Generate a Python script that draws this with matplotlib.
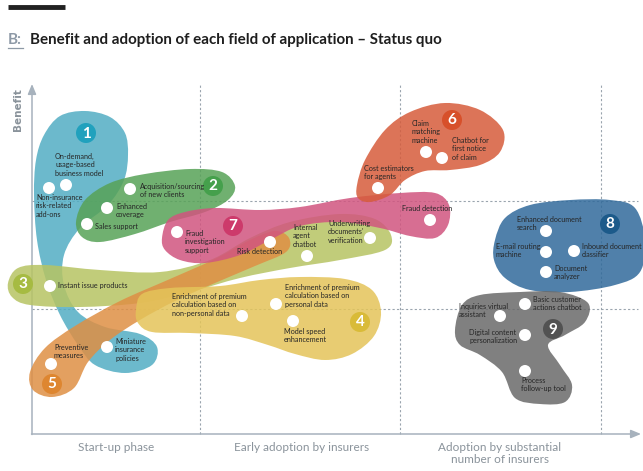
import numpy as np
import matplotlib

matplotlib.use("Agg")
import matplotlib.pyplot as plt
from matplotlib.path import Path
from matplotlib.patches import PathPatch, Circle

plt.rcParams["font.family"] = ["Lato", "DejaVu Sans"]

# --- data (chart works in pixel-like units: x = adoption, y = benefit, y grows downwards) ---
field_ids = [1, 2, 3, 4, 5, 6, 7, 8, 9]
field_colors = ["#52adc3", "#57a257", "#b7c463", "#e4c459", "#df8f44",
                "#d65c3b", "#d1557f", "#316a9b", "#6a6a6a"]
badge_colors = ["#21a1bd", "#45a04c", "#a6bb42", "#d9bb38", "#de8630",
                "#d7502a", "#cd3a6b", "#1c5a8a", "#525252"]
badge_x = [86, 213, 23, 360, 52, 452, 233, 610, 553]
badge_y = [133, 186, 284, 322, 384, 120, 226, 224, 329]

# outlines of the field blobs (control points of a closed smooth curve)
blob_1 = [(60, 116), (85, 111), (110, 117), (125, 133), (128, 155), (124, 180), (108, 205),
          (80, 228), (64, 255), (64, 285), (78, 312), (105, 327), (140, 334), (157, 347),
          (152, 365), (125, 373), (95, 365), (78, 345), (60, 315), (46, 280), (37, 240),
          (34, 195), (36, 160), (44, 135)]
blob_2 = [(76, 222), (85, 200), (110, 183), (145, 174), (190, 169), (222, 172), (235, 186),
          (228, 200), (205, 212), (170, 222), (135, 234), (100, 242), (82, 237)]
blob_3 = [(8, 283), (18, 268), (45, 265), (100, 270), (160, 272), (210, 260), (250, 238),
          (290, 222), (340, 214), (375, 219), (391, 235), (385, 250), (340, 260), (290, 268),
          (240, 278), (190, 292), (140, 303), (80, 307), (30, 305), (12, 297)]
blob_4 = [(136, 310), (142, 294), (170, 288), (220, 286), (260, 280), (300, 277), (345, 279),
          (372, 290), (381, 312), (374, 336), (352, 354), (325, 360), (295, 354), (268, 345),
          (235, 336), (190, 333), (152, 332), (138, 323)]
blob_5 = [(30, 372), (45, 348), (75, 326), (120, 301), (170, 279), (215, 259), (250, 240),
          (275, 231), (289, 238), (286, 252), (255, 266), (215, 283), (175, 301), (140, 320),
          (110, 340), (88, 362), (74, 388), (52, 397), (33, 390)]
blob_6 = [(357, 185), (365, 160), (385, 130), (410, 112), (445, 103), (480, 110), (503, 130),
          (500, 152), (480, 165), (450, 170), (425, 171), (405, 180), (390, 195), (370, 202),
          (358, 198)]
blob_7 = [(162, 238), (168, 220), (185, 212), (215, 208), (260, 210), (300, 207), (350, 198),
          (400, 193), (435, 193), (449, 205), (448, 225), (435, 238), (410, 236), (380, 228),
          (340, 222), (300, 226), (270, 240), (240, 255), (205, 263), (180, 260), (165, 250)]
blob_8 = [(495, 240), (505, 218), (530, 205), (570, 200), (610, 200), (635, 208), (645, 240),
          (640, 272), (615, 285), (570, 292), (530, 290), (505, 278), (494, 260)]
blob_9 = [(455, 330), (462, 305), (480, 295), (520, 292), (560, 292), (588, 303), (585, 322),
          (565, 335), (548, 345), (560, 365), (572, 385), (565, 402), (540, 404), (515, 398),
          (502, 372), (480, 355), (460, 345)]
blobs = [blob_1, blob_2, blob_3, blob_4, blob_5, blob_6, blob_7, blob_8, blob_9]
draw_order = [0, 2, 4, 3, 1, 6, 5, 7, 8]

app_names = [
    "On-demand,\nusage-based\nbusiness model", "Non-insurance\nrisk-related\nadd-ons",
    "Miniature\ninsurance\npolicies", "Acquisition/sourcing\nof new clients",
    "Enhanced\ncoverage", "Sales support", "Instant issue products",
    "Enrichment of premium\ncalculation based on\nnon-personal data",
    "Enrichment of premium\ncalculation based on\npersonal data",
    "Model speed\nenhancement", "Preventive\nmeasures", "Risk detection",
    "Claim\nmatching\nmachine", "Chatbot for\nfirst notice\nof claim",
    "Cost estimators\nfor agents", "Fraud\ninvestigation\nsupport", "Fraud detection",
    "Internal\nagent\nchatbot", "Underwriting\ndocuments'\nverification",
    "Enhanced document\nsearch", "E-mail routing\nmachine", "Inbound document\nclassifier",
    "Document\nanalyzer", "Basic customer\nactions chatbot", "Inquiries virtual\nassistant",
    "Digital content\npersonalization", "Process\nfollow-up tool",
]
app_adoption = [66, 49, 107, 130, 107, 87, 50, 242, 276, 293, 51, 270, 426, 442, 378, 177,
                430, 307, 370, 546, 546, 574, 546, 525, 500, 525, 525]
app_benefit = [185, 188, 347, 189, 208, 224, 286, 316, 304, 321, 364, 242, 152, 158, 188, 232,
               220, 256, 238, 231, 252, 251, 272, 304, 316, 335, 371]
# label anchors: left edge and first-line centre
label_x = [55, 36, 115, 140, 116, 95, 58, 172, 285, 284, 54, 237, 412, 452, 364, 185, 402,
           293, 328, 517, 496, 582, 554, 533, 459, 469, 521]
label_y = [157, 198, 342, 187, 207, 227, 286, 297, 288, 332, 348, 252, 124, 141, 169, 234, 209,
           228, 224, 220, 247, 247, 269, 300, 307, 333, 381]

phase_names = ["Start-up phase", "Early adoption by insurers",
               "Adoption by substantial\nnumber of insurers"]
phase_centres = [116, 302, 500]
phase_bounds = [200, 400, 601]
benefit_levels = [201, 309]


def smooth_closed(pts):
    p = np.asarray(pts, float)
    n = len(p)
    verts = [p[0]]
    codes = [Path.MOVETO]
    for i in range(n):
        p0, p1, p2, p3 = p[i - 1], p[i], p[(i + 1) % n], p[(i + 2) % n]
        verts += [p1 + (p2 - p0) / 6, p2 - (p3 - p1) / 6, p2]
        codes += [Path.CURVE4] * 3
    verts.append(p[0])
    codes.append(Path.CLOSEPOLY)
    return Path(verts, codes)


fig = plt.figure(figsize=(6.43, 4.71), dpi=100)
ax = fig.add_axes([0, 0, 1, 1])
ax.set_xlim(0, 643)
ax.set_ylim(471, 0)
ax.axis("off")

axis_col = "#a7b2bd"
grid_col = "#9aa4ae"
label_col = "#8a939b"

# grid
for xb in phase_bounds:
    ax.plot([xb, xb], [434, 85], color=grid_col, lw=0.8, ls=(0, (2, 2)), zorder=0)
for yb in benefit_levels:
    ax.plot([32, 638], [yb, yb], color=grid_col, lw=0.8, ls=(0, (2, 2)), zorder=0)

# axes arrows
arrow = dict(arrowstyle="-|>,head_width=0.25,head_length=0.6", color=axis_col, lw=1.1,
             shrinkA=0, shrinkB=0)
ax.annotate("", xy=(32, 84), xytext=(32, 434.5), arrowprops=arrow, zorder=1)
ax.annotate("", xy=(641, 434), xytext=(31.5, 434), arrowprops=arrow, zorder=1)

# blobs
for i in draw_order:
    ax.add_patch(PathPatch(smooth_closed(blobs[i]), facecolor=field_colors[i], edgecolor="none",
                           alpha=0.85, zorder=2))

# badges
for i, fid in enumerate(field_ids):
    ax.add_patch(Circle((badge_x[i], badge_y[i]), 10, facecolor=badge_colors[i],
                        edgecolor="none", zorder=4))
    ax.text(badge_x[i], badge_y[i] + 0.5, str(fid), color="white", fontsize=11,
            fontweight="bold", ha="center", va="center", zorder=5)

# applications
for name, x, y, lx, ly in zip(app_names, app_adoption, app_benefit, label_x, label_y):
    ax.add_patch(Circle((x, y), 6, facecolor="white", edgecolor="none", zorder=4))
    ax.text(lx, ly - 4.2, name, fontsize=5.25, color="#262626", ha="left", va="top",
            linespacing=1.25, zorder=5)

# axis labels
for name, xc in zip(phase_names, phase_centres):
    ax.text(xc, 442, name, fontsize=8.5, color=label_col, ha="center", va="top",
            linespacing=1.1)
ax.text(18, 110, "Benefit", rotation=90, fontsize=7.5, fontweight="bold", color=label_col,
        ha="center", va="center", family=["DejaVu Sans"])

# title
ax.plot([8, 65], [7, 7], color="#222222", lw=3.5, solid_capstyle="butt")
ax.text(8, 40, "B:", fontsize=11, fontweight="bold", color="#8d99a6", ha="left",
        va="center")
ax.plot([8, 23], [48, 48], color="#8d99a6", lw=0.9)
ax.text(30, 40, "Benefit and adoption of each field of application \u2013 Status quo",
        fontsize=10.9, fontweight="bold", color="#1e1e1e", ha="left", va="center")

fig.savefig("out.png", dpi=100)
